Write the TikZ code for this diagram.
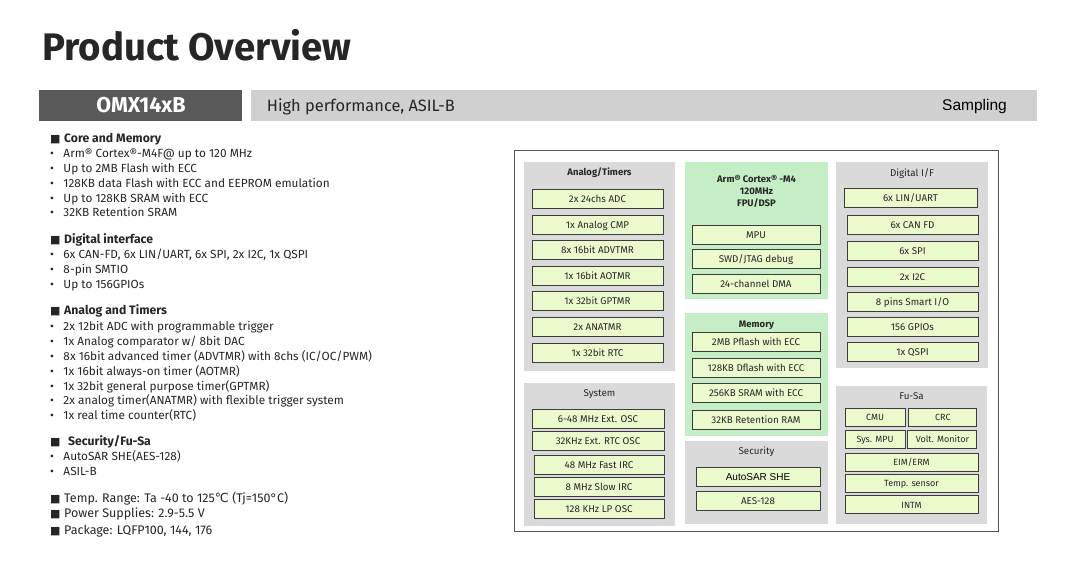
\documentclass[tikz,border=0pt]{standalone}
\usepackage{fontspec}
\setmainfont{Fira Sans}
\newfontfamily\symfont{DejaVu Sans}
\newfontfamily\arialfont{Liberation Sans}
\usetikzlibrary{positioning}

\definecolor{barDark}{HTML}{595959}
\definecolor{barLight}{HTML}{D0D0D0}
\definecolor{panelGray}{HTML}{DADADA}
\definecolor{panelGreen}{HTML}{C6EEC6}
\definecolor{boxFill}{HTML}{EBFACD}
\definecolor{boxLine}{HTML}{3C3C3C}
\definecolor{frameLine}{HTML}{555555}
\definecolor{txt}{HTML}{262626}

\newcommand\sqmark{\makebox[14pt][l]{\symfont\fontsize{11}{11}\selectfont ■}}
\newcommand\dotmark{\makebox[13.3pt][l]{•}}

\tikzset{
  blk/.style={draw=boxLine, line width=0.9pt, fill=boxFill, inner sep=0pt, minimum height=19pt,
    text height=7pt, text depth=0pt, text=txt, font=\fontsize{9.8}{11}\selectfont},
  panel/.style={fill=#1, inner sep=0pt, anchor=north west},
  ptitle/.style={anchor=base, inner sep=0pt, text=txt, font=\bfseries\fontsize{9.5}{12}\selectfont},
  ptitlelight/.style={ptitle, font=\fontsize{9.8}{12}\selectfont},
  item/.style={anchor=base west, inner sep=0pt, text=txt, font=\fontsize{11.8}{13}\selectfont},
  head/.style={item, font=\bfseries\fontsize{12.2}{13}\selectfont},
}

\begin{document}
\begin{tikzpicture}[x=1pt, y=-1pt]
    \fill[white] (0,0) rectangle (1080,565);
    \useasboundingbox (0,0) rectangle (1080,565);

    % title and header bars
    \node[anchor=base west, inner sep=0pt, text=txt, font=\bfseries\fontsize{38.4}{40}\selectfont] (title) at (42,60) {Product Overview};
    \node[panel=barDark, minimum width=203, minimum height=31.5] (partBar) at (39,89.3) {};
    \node[anchor=base, inner sep=0pt, text=white, font=\bfseries\fontsize{21.5}{24}\selectfont] (partName) at (141,112.3) {OMX14xB};
    \node[panel=barLight, minimum width=786, minimum height=31.5] (descBar) at (251,89.3) {};
    \node[anchor=base west, inner sep=0pt, text=txt, font=\fontsize{16.4}{19}\selectfont] (descText) at (266.7,111.7) {High performance, ASIL-B};
    \node[anchor=base east, inner sep=0pt, text=black, font=\arialfont\fontsize{15.5}{18}\selectfont] (status) at (1007,110) {Sampling};

    % feature list
    \node[head] (coreHead) at (50,142.7) {\sqmark Core and Memory};
    \node[item] (core1) at (50,157.7) {\dotmark Arm® Cortex®-M4F@ up to 120 MHz};
    \node[item] (core2) at (50,172.3) {\dotmark Up to 2MB Flash with ECC};
    \node[item] (core3) at (50,187.3) {\dotmark 128KB data Flash with ECC and EEPROM emulation};
    \node[item] (core4) at (50,202.3) {\dotmark Up to 128KB SRAM with ECC};
    \node[item] (core5) at (50,216.7) {\dotmark 32KB Retention SRAM};

    \node[head] (digHead) at (50,243.3) {\sqmark Digital interface};
    \node[item] (dig1) at (50,258.3) {\dotmark 6x CAN-FD, 6x LIN/UART, 6x SPI, 2x I2C, 1x QSPI};
    \node[item] (dig2) at (50,273.3) {\dotmark 8-pin SMTIO};
    \node[item] (dig3) at (50,288.3) {\dotmark Up to 156GPIOs};

    \node[head] (anaHead) at (50,314.3) {\sqmark Analog and Timers};
    \node[item] (ana1) at (50,330) {\dotmark 2x 12bit ADC with programmable trigger};
    \node[item] (ana2) at (50,345) {\dotmark 1x Analog comparator w/ 8bit DAC};
    \node[item] (ana3) at (50,360) {\dotmark 8x 16bit advanced timer (ADVTMR) with 8chs (IC/OC/PWM)};
    \node[item] (ana4) at (50,375) {\dotmark 1x 16bit always-on timer (AOTMR)};
    \node[item] (ana5) at (50,390) {\dotmark 1x 32bit general purpose timer(GPTMR)};
    \node[item] (ana6) at (50,404.3) {\dotmark 2x analog timer(ANATMR) with flexible trigger system};
    \node[item] (ana7) at (50,419) {\dotmark 1x real time counter(RTC)};

    \node[head] (secHead) at (50,445.7) {\sqmark\hspace{4pt}Security/Fu-Sa};
    \node[item] (sec1) at (50,460.7) {\dotmark AutoSAR SHE(AES-128)};
    \node[item] (sec2) at (50,475.7) {\dotmark ASIL-B};

    \node[item, font=\fontsize{12.5}{14}\selectfont] (temp) at (50,502.7) {\sqmark Temp. Range: Ta -40 to 125{\symfont ℃} (Tj=150°C)};
    \node[item, font=\fontsize{12.5}{14}\selectfont] (power) at (50,517.7) {\sqmark Power Supplies: 2.9-5.5 V};
    \node[item, font=\fontsize{12.5}{14}\selectfont] (pkg) at (50,534) {\sqmark Package: LQFP100, 144, 176};

    % the block diagram
    \node[draw=frameLine, line width=0.8pt, panel=white, minimum width=484, minimum height=381] (chip) at (514,150) {};

    \node[panel=panelGray, minimum width=151, minimum height=209] (anaPanel) at (524,162) {};
    \node[ptitle] (anaTitle) at (599.5,175.5) {Analog/Timers};
    \node[blk, minimum width=131] (adc) at (597.5,199) {2x 24chs ADC};
    \node[blk, minimum width=131] (cmp) at (597.5,225) {1x Analog CMP};
    \node[blk, minimum width=131] (advtmr) at (597.5,250) {8x 16bit ADVTMR};
    \node[blk, minimum width=131] (aotmr) at (597.5,275.5) {1x 16bit AOTMR};
    \node[blk, minimum width=131] (gptmr) at (597.5,301) {1x 32bit GPTMR};
    \node[blk, minimum width=131] (anatmr) at (597.5,327) {2x ANATMR};
    \node[blk, minimum width=131] (rtc) at (597.5,352.5) {1x 32bit RTC};

    \node[panel=panelGray, minimum width=151, minimum height=143] (sysPanel) at (524,383) {};
    \node[ptitlelight] (sysTitle) at (599.5,396.5) {System};
    \node[blk, minimum width=132] (extosc) at (598,418.5) {6-48 MHz Ext. OSC};
    \node[blk, minimum width=132] (rtcosc) at (598,440.5) {32KHz Ext. RTC OSC};
    \node[blk, minimum width=130] (fastirc) at (599,464.5) {48 MHz Fast IRC};
    \node[blk, minimum width=130] (slowirc) at (599,487) {8 MHz Slow IRC};
    \node[blk, minimum width=130] (lposc) at (599,508.5) {128 KHz LP OSC};

    \node[panel=panelGreen, minimum width=143, minimum height=137] (cpuPanel) at (685,162) {};
    \node[ptitle, anchor=center, align=center] (cpuTitle) at (756.5,191) {Arm® Cortex® -M4\\120MHz\\FPU/DSP};
    \node[blk, minimum width=128] (mpu) at (756,235) {MPU};
    \node[blk, minimum width=128] (swd) at (756,259) {SWD/JTAG debug};
    \node[blk, minimum width=128] (dma) at (756,283.5) {24-channel DMA};

    \node[panel=panelGreen, minimum width=143, minimum height=123] (memPanel) at (685,313) {};
    \node[ptitle] (memTitle) at (756.5,327) {Memory};
    \node[blk, minimum width=128] (pflash) at (756,342) {2MB Pflash with ECC};
    \node[blk, minimum width=128] (dflash) at (756,368) {128KB Dflash with ECC};
    \node[blk, minimum width=128] (sram) at (756,393) {256KB SRAM with ECC};
    \node[blk, minimum width=128] (retram) at (756,420) {32KB Retention RAM};

    \node[panel=panelGray, minimum width=143, minimum height=83] (secPanel) at (685,441) {};
    \node[ptitlelight] (secTitle) at (756.5,454) {Security};
    \node[blk, minimum width=124, font=\arialfont\fontsize{10}{11}\selectfont, text=black] (she) at (758,477) {AutoSAR SHE};
    \node[blk, minimum width=124] (aes) at (758,501) {AES-128};

    \node[panel=panelGray, minimum width=152, minimum height=206] (digPanel) at (836,162) {};
    \node[ptitlelight] (digTitle) at (912,176) {Digital I/F};
    \node[blk, minimum width=133] (lin) at (910.5,197.5) {6x LIN/UART};
    \node[blk, minimum width=131] (can) at (912.5,225) {6x CAN FD};
    \node[blk, minimum width=131] (spi) at (912.5,251) {6x SPI};
    \node[blk, minimum width=131] (iic) at (912.5,277) {2x I2C};
    \node[blk, minimum width=131] (smartio) at (912.5,302) {8 pins Smart I/O};
    \node[blk, minimum width=131] (gpio) at (912.5,327) {156 GPIOs};
    \node[blk, minimum width=131] (qspi) at (912.5,352) {1x QSPI};

    \node[panel=panelGray, minimum width=151, minimum height=138] (fusaPanel) at (836,386) {};
    \node[ptitlelight] (fusaTitle) at (911.5,399.5) {Fu-Sa};
    \node[blk, minimum width=60, minimum height=18, font=\fontsize{9}{10}\selectfont] (cmu) at (875,417) {CMU};
    \node[blk, minimum width=68, minimum height=18, font=\fontsize{9}{10}\selectfont, right=3pt of cmu] (crc) {CRC};
    \node[blk, minimum width=60, minimum height=18, font=\fontsize{9}{10}\selectfont] (sysmpu) at (875,439) {Sys. MPU};
    \node[blk, minimum width=69, minimum height=18, font=\fontsize{9}{10}\selectfont, right=2pt of sysmpu] (vmon) {Volt. Monitor};
    \node[blk, minimum width=133, minimum height=18, font=\fontsize{9}{10}\selectfont] (eim) at (911.5,462) {EIM/ERM};
    \node[blk, minimum width=133, minimum height=18, font=\fontsize{9}{10}\selectfont] (tsens) at (911.5,483) {Temp. sensor};
    \node[blk, minimum width=133, minimum height=18, font=\fontsize{9}{10}\selectfont] (intm) at (911.5,504.5) {INTM};
\end{tikzpicture}
\end{document}
